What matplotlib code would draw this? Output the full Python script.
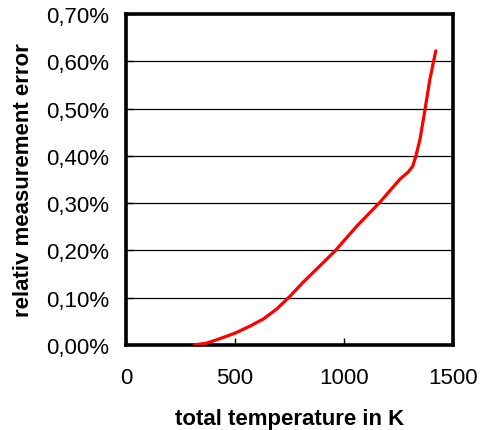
import matplotlib.pyplot as plt
from matplotlib.ticker import FuncFormatter

plt.rcParams['font.family'] = ['Liberation Sans', 'DejaVu Sans']

# total temperature (K) vs. relative measurement error (%)
temperature = [312, 370, 416, 500, 569, 630, 691, 752, 813, 882, 959, 1058,
               1165, 1257, 1295, 1315, 1330, 1349, 1372, 1394, 1421]
rel_error = [0.000, 0.004, 0.011, 0.025, 0.040, 0.055, 0.076, 0.103, 0.133,
             0.164, 0.199, 0.251, 0.302, 0.351, 0.366, 0.378, 0.400, 0.436,
             0.499, 0.562, 0.622]

x_ticks = [0, 500, 1000, 1500]
y_ticks = [0.0, 0.1, 0.2, 0.3, 0.4, 0.5, 0.6, 0.7]

fig = plt.figure(figsize=(4.82, 4.31), dpi=100)
ax = fig.add_axes([126 / 482, 1 - 346 / 431, 327 / 482, 331 / 431])

for y in y_ticks[1:-1]:
    ax.axhline(y, color='black', lw=0.9, zorder=1)

ax.plot(temperature, rel_error, color='#ff0000', lw=2.3, zorder=3,
        solid_capstyle='round', solid_joinstyle='round')

ax.set_xlim(0, 1500)
ax.set_ylim(0, 0.7)
ax.set_xticks(x_ticks)
ax.set_yticks(y_ticks)
ax.yaxis.set_major_formatter(FuncFormatter(lambda v, _: f'{v:.2f}%'.replace('.', ',')))

ax.tick_params(axis='both', direction='in', length=5, width=1, labelsize=16)
ax.tick_params(axis='x', pad=16)
ax.tick_params(axis='y', pad=12)

for s in ax.spines.values():
    s.set_linewidth(2.6)

ax.set_xlabel('total temperature in K', fontsize=16, fontweight='bold', labelpad=14)
ax.set_ylabel('relativ measurement error', fontsize=16, fontweight='bold', labelpad=9)

fig.savefig('out.png', dpi=100)
